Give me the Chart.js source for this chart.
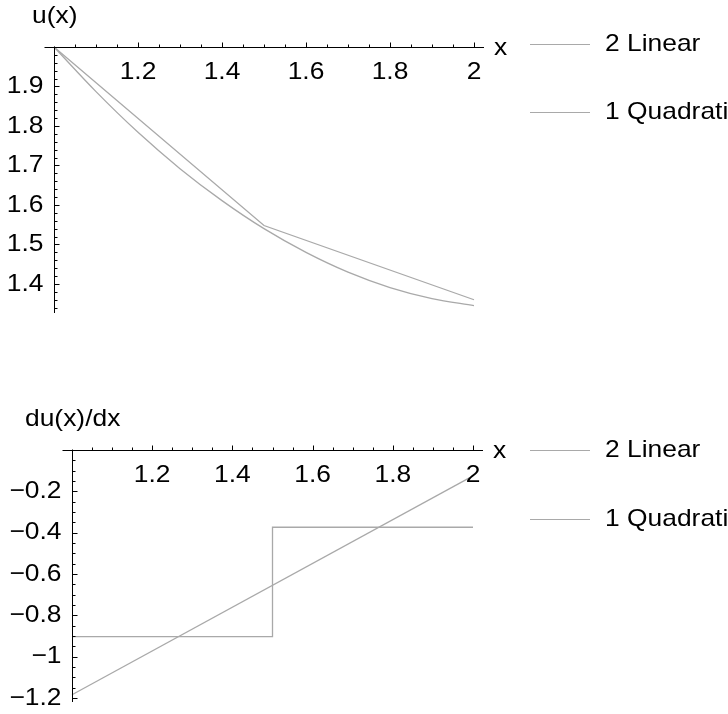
<!DOCTYPE html>
<html>
<head>
<meta charset="utf-8">
<script src="https://cdn.jsdelivr.net/npm/chart.js@4.4.1/dist/chart.umd.min.js"></script>
<style>
  body { margin: 0; background: #fff; }
  #wrap { position: relative; width: 728px; height: 714px; overflow: hidden; }
  canvas { position: absolute; left: 0; }
</style>
</head>
<body>
<div id="wrap">
  <canvas id="uChart" width="728" height="380" style="top:0"></canvas>
  <canvas id="duChart" width="728" height="334" style="top:380px"></canvas>
</div>
<script>
// ---- data ----
const seriesNames = ['2 Linear', '1 Quadratic'];

// u(x)
const xLin = [1, 1.5, 2];
const uLin = [2, 1.548, 1.36];
const xQuad = [1, 1.1, 1.2, 1.3, 1.4, 1.5, 1.6, 1.7, 1.8, 1.9, 2];
const uQuad = [2, 1.887, 1.784, 1.692, 1.611, 1.540, 1.480, 1.430, 1.391, 1.363, 1.345];

// du(x)/dx
const xLinD = [1, 1.5, 1.5, 2];
const duLin = [-0.903, -0.903, -0.374, -0.374];
const xQuadD = [1, 2];
const duQuad = [-1.185, -0.125];

// tick labels
const xTicks = [1.2, 1.4, 1.6, 1.8, 2];
const xTickLabels = ['1.2', '1.4', '1.6', '1.8', '2'];
const uTicks = [1.4, 1.5, 1.6, 1.7, 1.8, 1.9];
const uTickLabels = ['1.4', '1.5', '1.6', '1.7', '1.8', '1.9'];
const duTicks = [-0.2, -0.4, -0.6, -0.8, -1, -1.2];
const duTickLabels = ['\u22120.2', '\u22120.4', '\u22120.6', '\u22120.8', '\u22121', '\u22121.2'];

const GRAY = '#a9a9a9';
const FONT = '24px "Liberation Sans", Arial, sans-serif';
const STRETCH = 1.1;

function text(ctx, str, x, y, align, baseline) {
  ctx.save();
  ctx.translate(x, y);
  ctx.scale(STRETCH, 1);
  ctx.font = FONT;
  ctx.fillStyle = '#000';
  ctx.textAlign = align;
  ctx.textBaseline = baseline || 'alphabetic';
  ctx.fillText(str, 0, 0);
  ctx.restore();
}
const px = v => Math.round(v) + 0.5;

// Mathematica-style axes crossing at an origin, with minor ticks and a side legend
const axesPlugin = {
  id: 'mmaAxes',
  afterDatasetsDraw(chart, args, o) {
    const { ctx, chartArea: a, scales: { x, y } } = chart;
    const ox = px(x.getPixelForValue(o.origin[0]));
    const oy = px(y.getPixelForValue(o.origin[1]));
    ctx.save();
    ctx.strokeStyle = '#000';
    ctx.lineWidth = 1;
    ctx.beginPath();
    ctx.moveTo(ox - o.xOver[0], oy); ctx.lineTo(a.right + o.xOver[1], oy);
    ctx.moveTo(ox, oy - 1); ctx.lineTo(ox, a.bottom + 1);
    // x ticks (above the axis)
    for (let i = 1; o.origin[0] + i * o.xMinor <= x.max + 1e-9; i++) {
      const v = o.origin[0] + i * o.xMinor;
      const major = o.xTicks.some(t => Math.abs(t - v) < 1e-6);
      const p = px(x.getPixelForValue(v));
      ctx.moveTo(p, oy); ctx.lineTo(p, oy - (major ? 5 : 3));
    }
    // y ticks (right of the axis)
    for (let i = 1; ; i++) {
      const v = o.origin[1] - i * o.yMinor;
      if (v < y.min - 1e-9) break;
      const major = o.yTicks.some(t => Math.abs(t - v) < 1e-6);
      const p = px(y.getPixelForValue(v));
      ctx.moveTo(ox, p); ctx.lineTo(ox + (major ? 5 : 3), p);
    }
    ctx.stroke();

    o.xTicks.forEach((v, i) => text(ctx, o.xLabels[i], x.getPixelForValue(v), oy + 31, 'center'));
    o.yTicks.forEach((v, i) => text(ctx, o.yLabels[i], ox - 11, y.getPixelForValue(v), 'right', 'middle'));
    text(ctx, 'x', a.right + 20, oy + 7, 'left');
    text(ctx, o.title, o.titlePos[0], o.titlePos[1], 'left');

    // legend
    chart.data.datasets.forEach((ds, i) => {
      const ly = px(o.legendRows[i]);
      ctx.strokeStyle = ds.borderColor;
      ctx.lineWidth = 1.2;
      ctx.beginPath();
      ctx.moveTo(530, ly); ctx.lineTo(590, ly);
      ctx.stroke();
      text(ctx, ds.label, 605, ly, 'left', 'middle');
    });
    ctx.restore();
  }
};

const pts = (xs, ys) => xs.map((v, i) => ({ x: v, y: ys[i] }));

function makeChart(id, datasets, yMin, yMax, padding, axisOpts) {
  return new Chart(document.getElementById(id), {
    type: 'scatter',
    data: { datasets },
    options: {
      responsive: false,
      animation: false,
      layout: { padding },
      plugins: { legend: { display: false }, tooltip: { enabled: false }, mmaAxes: axisOpts },
      scales: {
        x: { type: 'linear', min: 1, max: 2, display: false },
        y: { type: 'linear', min: yMin, max: yMax, display: false }
      },
      elements: { point: { radius: 0 }, line: { borderWidth: 1.3 } }
    },
    plugins: [axesPlugin]
  });
}

makeChart('uChart', [
  { label: seriesNames[0], data: pts(xLin, uLin), showLine: true, borderColor: GRAY, clip: false },
  { label: seriesNames[1], data: pts(xQuad, uQuad), showLine: true, borderColor: GRAY, clip: false, cubicInterpolationMode: 'monotone' }
], 1.329, 2, { left: 54, right: 254, top: 47, bottom: 68 }, {
  origin: [1, 2], xOver: [10, 10], xMinor: 0.05, yMinor: 0.02,
  xTicks, xLabels: xTickLabels, yTicks: uTicks, yLabels: uTickLabels,
  title: 'u(x)', titlePos: [32, 23], legendRows: [44, 112]
});

makeChart('duChart', [
  { label: seriesNames[0], data: pts(xLinD, duLin), showLine: true, borderColor: GRAY, clip: false },
  { label: seriesNames[1], data: pts(xQuadD, duQuad), showLine: true, borderColor: GRAY, clip: false }
], -1.215, 0, { left: 72, right: 255, top: 70, bottom: 13 }, {
  origin: [1, 0], xOver: [10, 10], xMinor: 0.05, yMinor: 0.05,
  xTicks, xLabels: xTickLabels, yTicks: duTicks, yLabels: duTickLabels,
  title: 'du(x)/dx', titlePos: [25, 46], legendRows: [70, 139]
});
</script>
</body>
</html>
